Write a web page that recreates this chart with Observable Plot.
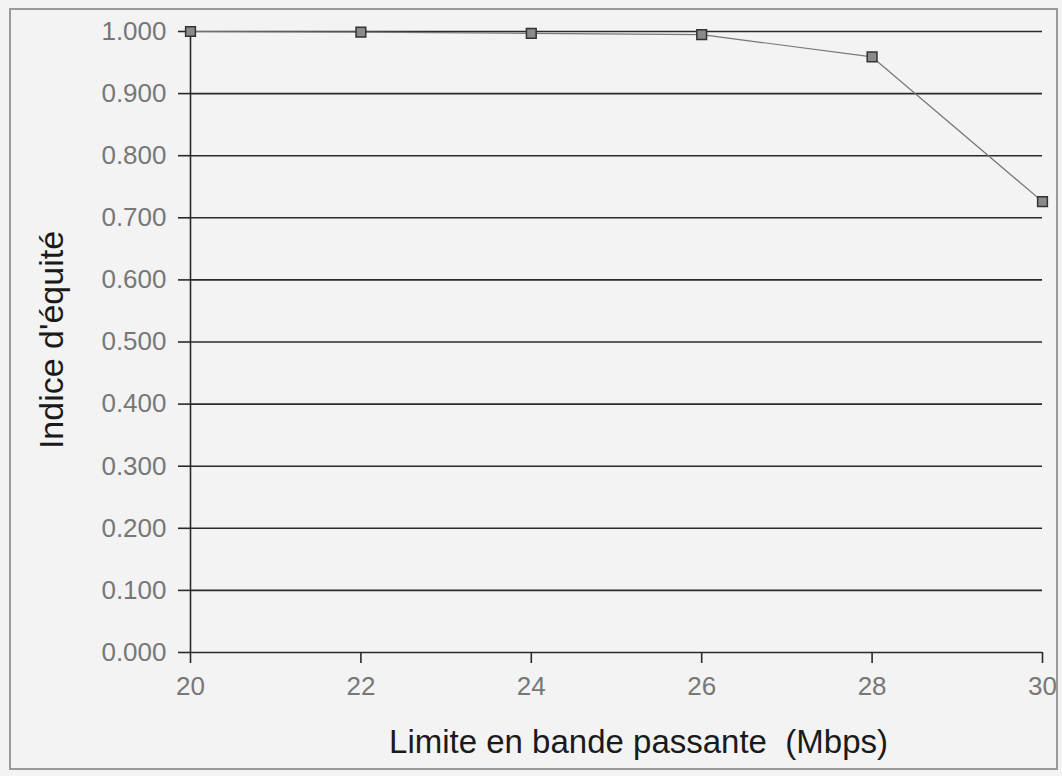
<!DOCTYPE html>
<html><head><meta charset="utf-8">
<script src="https://cdn.jsdelivr.net/npm/d3@7"></script>
<script src="https://cdn.jsdelivr.net/npm/@observablehq/plot@0.6"></script>
<style>
html,body{margin:0;padding:0;background:#f3f3f3;}
#wrap{position:relative;width:1062px;height:776px;overflow:hidden;}
#border{position:absolute;left:9px;top:8px;width:1049px;height:762px;border:2px solid #9a9a9a;box-sizing:border-box;pointer-events:none;}
svg{font-family:"Liberation Sans",Arial,sans-serif;}
</style></head>
<body><div id="wrap"><div id="border"></div></div>
<script>
const bandwidth = [20, 22, 24, 26, 28, 30];
const fairness = [1.000, 0.999, 0.997, 0.995, 0.959, 0.726];
const yTicks = [0, 0.1, 0.2, 0.3, 0.4, 0.5, 0.6, 0.7, 0.8, 0.9, 1.0];
const xTicks = [20, 22, 24, 26, 28, 30];
const data = bandwidth.map((b, i) => ({b, f: fairness[i]}));

const chart = Plot.plot({
  width: 1062, height: 776,
  marginLeft: 190, marginRight: 20, marginTop: 31, marginBottom: 124,
  style: {background: "transparent", fontFamily: "Liberation Sans, Arial, sans-serif"},
  x: {domain: [20, 30], label: null},
  y: {domain: [0, 1], label: null},
  marks: [
    Plot.ruleY(yTicks, {stroke: "#2a2a2a", strokeWidth: 1.6}),
    Plot.ruleX([20], {stroke: "#2a2a2a", strokeWidth: 1.6}),
    Plot.axisY({ticks: yTicks, tickSize: 12, tickPadding: 12, tickFormat: d3.format(".3f"), fontSize: 26, fill: "#777", stroke: "#2a2a2a", strokeWidth: 1.6, strokeOpacity: 1, label: null}),
    Plot.axisX({ticks: xTicks, tickSize: 11, tickPadding: 13, tickFormat: d => String(d), fontSize: 26, fill: "#777", stroke: "#2a2a2a", strokeWidth: 1.6, strokeOpacity: 1, label: null}),
    Plot.line(data, {x: "b", y: "f", stroke: "#777", strokeWidth: 1.2}),
    Plot.dot(data, {x: "b", y: "f", symbol: "square", r: 5.5, fill: "#8a8a8a", stroke: "#333", strokeWidth: 1.5}),
    Plot.text(["Indice d'équité"], {frameAnchor: "left", textAnchor: "middle", lineAnchor: "middle", dx: -138, dy: -2, rotate: -90, fontSize: 34, fill: "#1a1a1a"}),
    Plot.text(["Limite en bande passante  (Mbps)"], {frameAnchor: "bottom", textAnchor: "middle", lineAnchor: "middle", dx: 22, dy: 90, fontSize: 33, fill: "#1a1a1a"})
  ]
});
chart.querySelectorAll("text").forEach(t => t.setAttribute("xml:space", "preserve"));
document.getElementById("wrap").prepend(chart);
</script></body></html>
